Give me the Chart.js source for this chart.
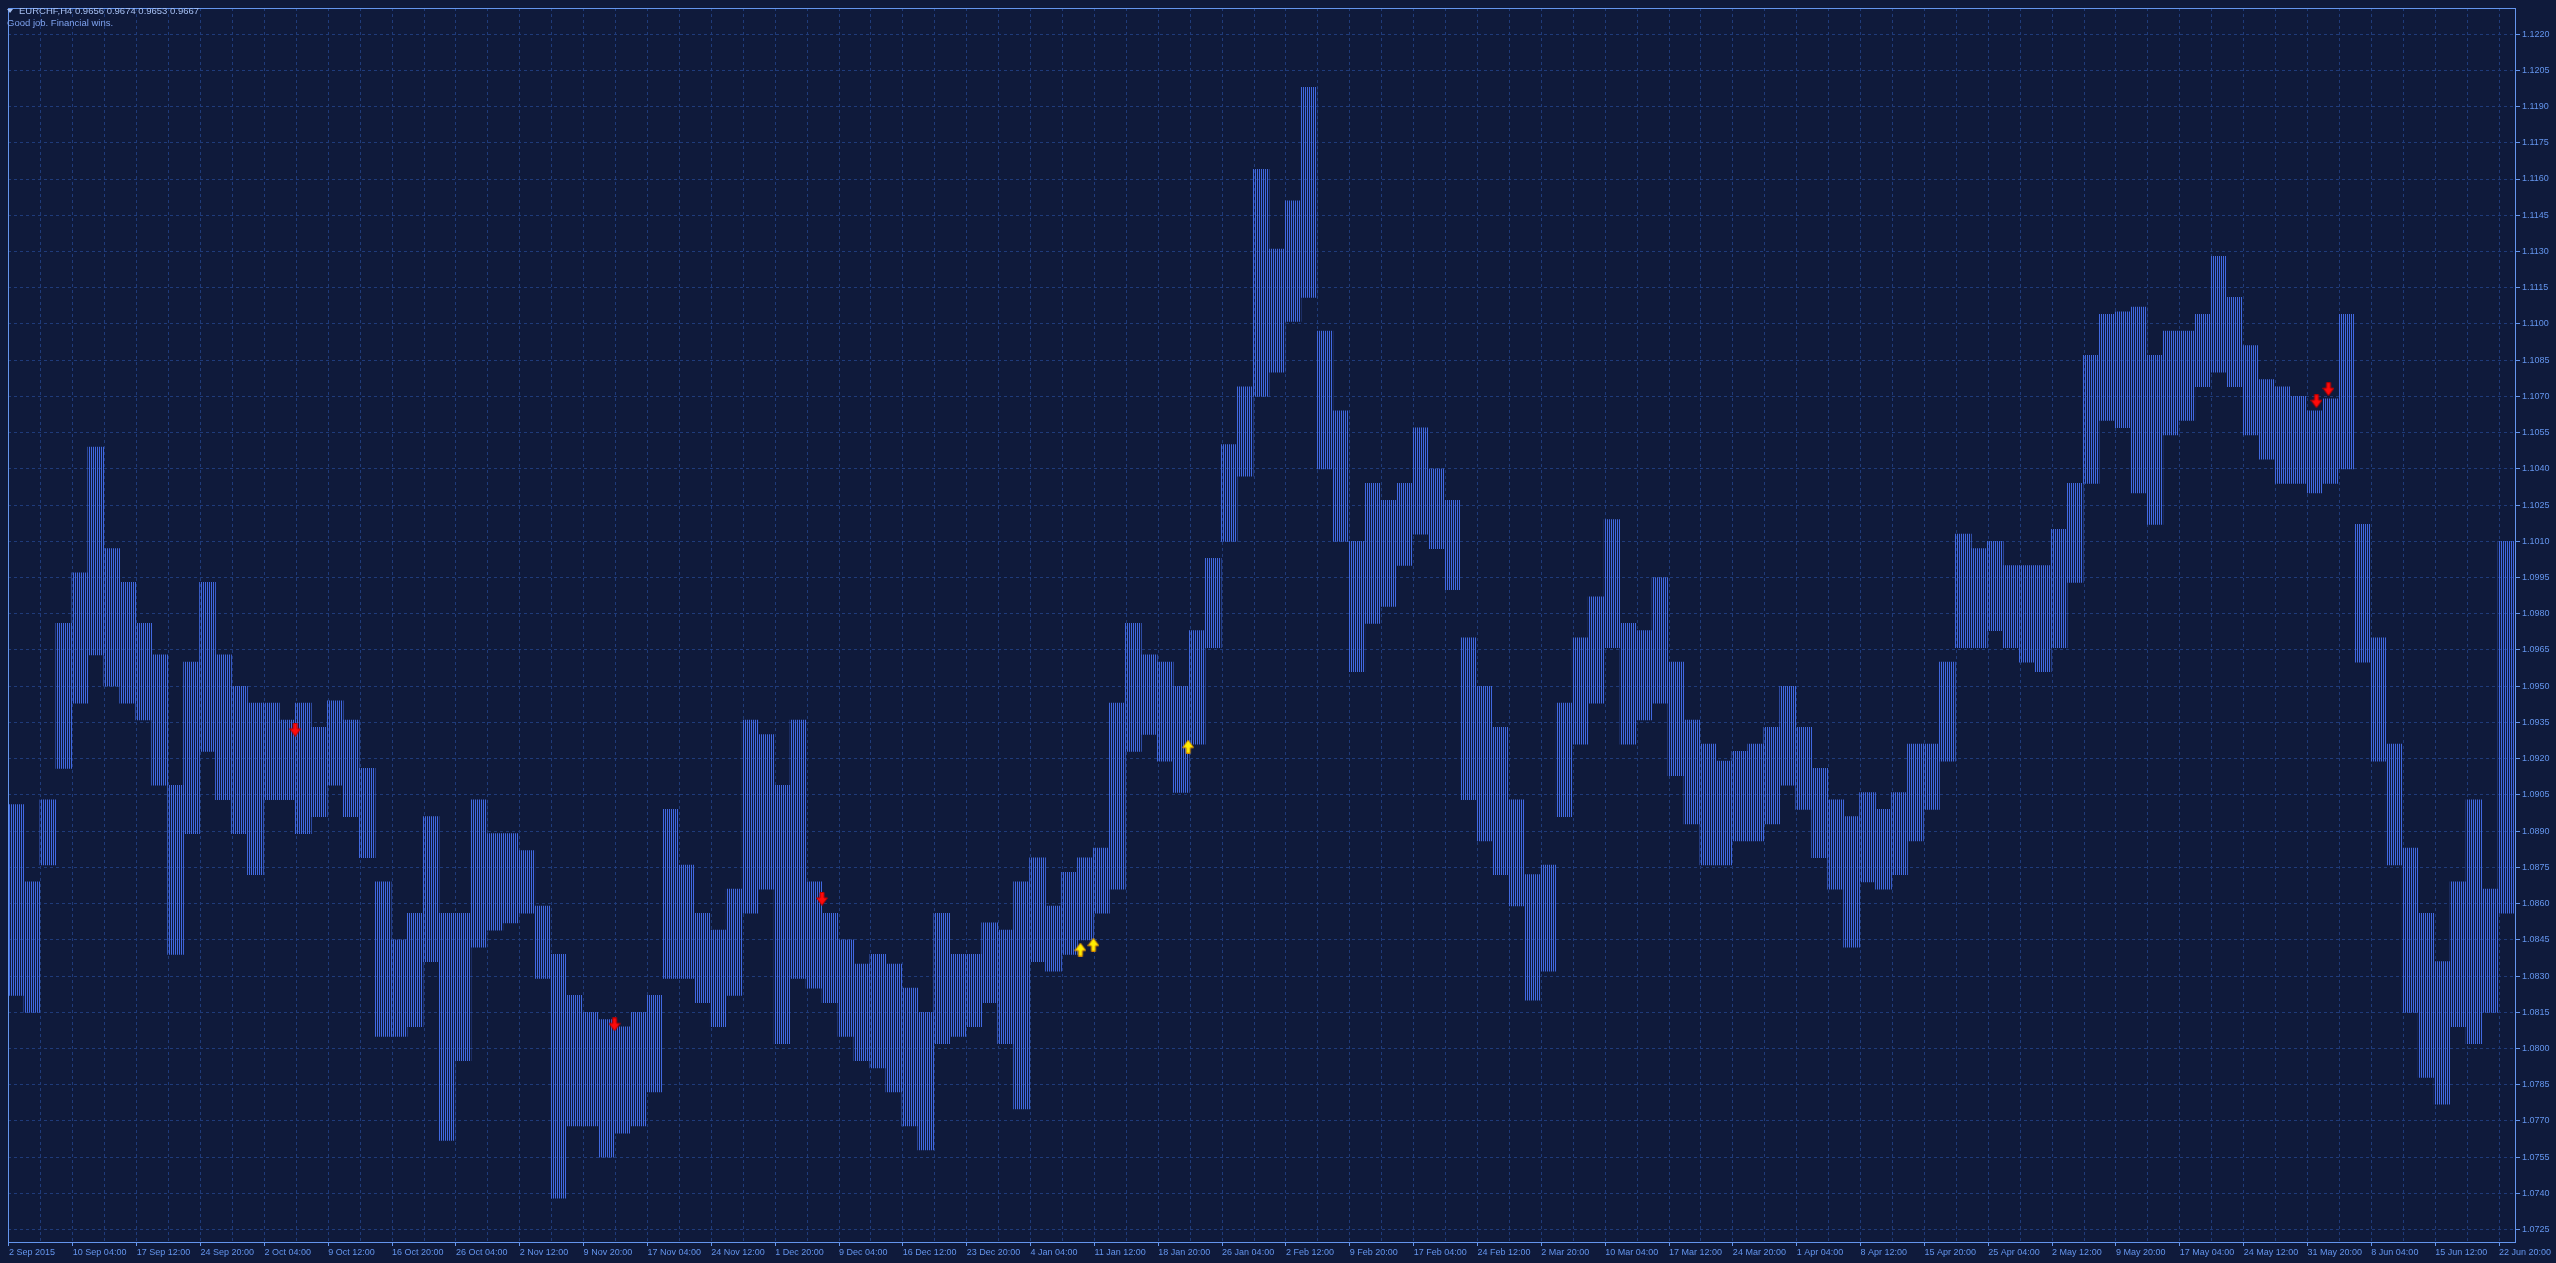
<!DOCTYPE html>
<html><head><meta charset="utf-8">
<script src="https://cdn.jsdelivr.net/npm/chart.js@4/dist/chart.umd.min.js"></script>
<style>
html,body{margin:0;padding:0;background:#0f1a3b;overflow:hidden;}
#wrap{position:relative;width:2556px;height:1263px;}
canvas{display:block;}
.t{position:absolute;font-family:"Liberation Sans",Arial,sans-serif;font-size:9.5px;white-space:pre;line-height:12px;}
.tri{display:inline-block;width:0;height:0;border-left:3px solid transparent;border-right:3px solid transparent;border-top:4px solid #a6bff2;margin-right:6px;vertical-align:1px;}
</style></head><body>
<div id="wrap"><canvas id="c" width="2556" height="1263"></canvas>
<div class="t" style="left:7px;top:5px;color:#a6bff2"><span class="tri"></span>EURCHF,H4 0.9656 0.9674 0.9653 0.9667</div>
<div class="t" style="left:7px;top:17px;color:#7ea2ee">Good job. Financial wins.</div>
</div>
<script>
// each drawn bar summarises 8 consecutive H4 bars (high / low)
const BARS_PER_GROUP = 8;
const highs = [
1.0901,1.0869,1.0903,1.0976,1.0997,1.1049,1.1007,1.0993,1.0976,1.0963,
1.0909,1.0960,1.0993,1.0963,1.0950,1.0943,1.0943,1.0936,1.0943,1.0933,
1.0944,1.0936,1.0916,1.0869,1.0845,1.0856,1.0896,1.0856,1.0856,1.0903,
1.0889,1.0889,1.0882,1.0859,1.0839,1.0822,1.0815,1.0812,1.0809,1.0815,
1.0822,1.0899,1.0876,1.0856,1.0849,1.0866,1.0936,1.0930,1.0909,1.0936,
1.0869,1.0856,1.0845,1.0835,1.0839,1.0835,1.0825,1.0815,1.0856,1.0839,
1.0839,1.0852,1.0849,1.0869,1.0879,1.0859,1.0873,1.0879,1.0883,1.0943,
1.0976,1.0963,1.0960,1.0950,1.0973,1.1003,1.1050,1.1074,1.1164,1.1131,
1.1151,1.1198,1.1097,1.1064,1.1010,1.1034,1.1027,1.1034,1.1057,1.1040,
1.1027,1.0970,1.0950,1.0933,1.0903,1.0872,1.0876,1.0943,1.0970,1.0987,
1.1019,1.0976,1.0973,1.0995,1.0960,1.0936,1.0926,1.0919,1.0923,1.0926,
1.0933,1.0950,1.0933,1.0916,1.0903,1.0896,1.0906,1.0899,1.0906,1.0926,
1.0926,1.0960,1.1013,1.1007,1.1010,1.1000,1.1000,1.1000,1.1015,1.1034,
1.1087,1.1104,1.1105,1.1107,1.1087,1.1097,1.1097,1.1104,1.1128,1.1111,
1.1091,1.1077,1.1074,1.1070,1.1064,1.1069,1.1104,1.1017,1.0970,1.0926,
1.0883,1.0856,1.0836,1.0869,1.0903,1.0866,1.1010
];
const lows = [
1.0822,1.0815,1.0876,1.0916,1.0943,1.0963,1.0950,1.0943,1.0936,1.0909,
1.0839,1.0889,1.0923,1.0903,1.0889,1.0872,1.0903,1.0903,1.0889,1.0896,
1.0909,1.0896,1.0879,1.0805,1.0805,1.0809,1.0836,1.0762,1.0795,1.0842,
1.0849,1.0852,1.0856,1.0829,1.0738,1.0768,1.0768,1.0755,1.0765,1.0768,
1.0782,1.0829,1.0829,1.0819,1.0809,1.0822,1.0856,1.0866,1.0802,1.0829,
1.0825,1.0819,1.0805,1.0795,1.0792,1.0782,1.0768,1.0758,1.0802,1.0805,
1.0809,1.0819,1.0802,1.0775,1.0836,1.0832,1.0839,1.0845,1.0856,1.0866,
1.0923,1.0930,1.0919,1.0906,1.0926,1.0966,1.1010,1.1037,1.1070,1.1080,
1.1101,1.1111,1.1040,1.1010,1.0956,1.0976,1.0983,1.1000,1.1013,1.1007,
1.0990,1.0903,1.0886,1.0872,1.0859,1.0820,1.0832,1.0896,1.0926,1.0943,
1.0966,1.0926,1.0936,1.0943,1.0913,1.0893,1.0876,1.0876,1.0886,1.0886,
1.0893,1.0909,1.0899,1.0879,1.0866,1.0842,1.0869,1.0866,1.0872,1.0886,
1.0899,1.0919,1.0966,1.0966,1.0973,1.0966,1.0960,1.0956,1.0966,1.0993,
1.1034,1.1060,1.1057,1.1030,1.1017,1.1054,1.1060,1.1074,1.1080,1.1074,
1.1054,1.1044,1.1034,1.1034,1.1030,1.1034,1.1040,1.0960,1.0919,1.0876,
1.0815,1.0788,1.0777,1.0809,1.0802,1.0815,1.0856
];
const timeLabels = ['2 Sep 2015','10 Sep 04:00','17 Sep 12:00','24 Sep 20:00','2 Oct 04:00','9 Oct 12:00','16 Oct 20:00','26 Oct 04:00','2 Nov 12:00','9 Nov 20:00','17 Nov 04:00','24 Nov 12:00','1 Dec 20:00','9 Dec 04:00','16 Dec 12:00','23 Dec 20:00','4 Jan 04:00','11 Jan 12:00','18 Jan 20:00','26 Jan 04:00','2 Feb 12:00','9 Feb 20:00','17 Feb 04:00','24 Feb 12:00','2 Mar 20:00','10 Mar 04:00','17 Mar 12:00','24 Mar 20:00','1 Apr 04:00','8 Apr 12:00','15 Apr 20:00','25 Apr 04:00','2 May 12:00','9 May 20:00','17 May 04:00','24 May 12:00','31 May 20:00','8 Jun 04:00','15 Jun 12:00','22 Jun 20:00'];
const BARS_PER_LABEL = 32;
const priceLabels = ['1.0725','1.0740','1.0755','1.0770','1.0785','1.0800','1.0815','1.0830','1.0845','1.0860','1.0875','1.0890','1.0905','1.0920','1.0935','1.0950','1.0965','1.0980','1.0995','1.1010','1.1025','1.1040','1.1055','1.1070','1.1085','1.1100','1.1115','1.1130','1.1145','1.1160','1.1175','1.1190','1.1205','1.1220'];
// signal arrows: H4 bar number and price
const sellBars = [143.5, 303.5, 407.5, 1156.5, 1162.5];
const sellPrices = [1.0932, 1.0810, 1.0862, 1.1068, 1.1073];
const buyBars = [537, 543.5, 591];
const buyPrices = [1.0841, 1.0843, 1.0925];

const TOTAL_BARS = 1256;
const Y_MIN = 1.07199, Y_MAX = 1.12308;

const canvas = document.getElementById('c');
const mainCtx = canvas.getContext('2d');
const stripe = document.createElement('canvas');
stripe.width = 2; stripe.height = 1;
const sg = stripe.getContext('2d');
sg.fillStyle = '#4169E1'; sg.fillRect(1, 0, 1, 1);
const stripePattern = mainCtx.createPattern(stripe, 'repeat');

function arrow(down, fill, edge) {
  const c = document.createElement('canvas'); c.width = 12; c.height = 14;
  const g = c.getContext('2d');
  g.beginPath();
  if (down) { g.moveTo(4,0.5); g.lineTo(8,0.5); g.lineTo(8,6); g.lineTo(11.5,6); g.lineTo(6,13.5); g.lineTo(0.5,6); g.lineTo(4,6); }
  else { g.moveTo(4,13.5); g.lineTo(8,13.5); g.lineTo(8,8); g.lineTo(11.5,8); g.lineTo(6,0.5); g.lineTo(0.5,8); g.lineTo(4,8); }
  g.closePath();
  g.fillStyle = fill; g.fill();
  g.strokeStyle = edge; g.lineWidth = 1; g.stroke();
  return c;
}
const redArrow = arrow(true, '#ff0a0a', '#b40000');
const yellowArrow = arrow(false, '#ffee00', '#d88a00');

const barData = highs.map((h, k) => ({ x: k * BARS_PER_GROUP + (BARS_PER_GROUP - 1) / 2, y: [lows[k], h] }));
const sellData = sellBars.map((b, i) => ({ x: b, y: sellPrices[i] }));
const buyData = buyBars.map((b, i) => ({ x: b, y: buyPrices[i] }));

const AXIS = '#6495ED', GRID = '#1f3b7a';
const framePlugin = {
  id: 'frame',
  afterDraw(chart) {
    const { ctx, chartArea: a } = chart;
    ctx.save(); ctx.strokeStyle = AXIS; ctx.lineWidth = 1;
    ctx.strokeRect(a.left + 0.5, a.top + 0.5, a.right - a.left, a.bottom - a.top);
    ctx.restore();
  }
};

new Chart(canvas, {
  type: 'bar',
  data: {
    datasets: [
      { type: 'bar', data: barData, backgroundColor: stripePattern, borderWidth: 0, barThickness: BARS_PER_GROUP * 2, order: 2 },
      { type: 'scatter', data: sellData, pointStyle: redArrow, pointRadius: 7, order: 1 },
      { type: 'scatter', data: buyData, pointStyle: yellowArrow, pointRadius: 7, order: 1 }
    ]
  },
  options: {
    responsive: false, animation: false, devicePixelRatio: 1,
    layout: { padding: { left: 2, top: 2, right: 0, bottom: 0 } },
    plugins: { legend: { display: false }, tooltip: { enabled: false } },
    scales: {
      x: {
        type: 'linear', min: -0.5, max: TOTAL_BARS, offset: false,
        afterBuildTicks(s) { const t = []; for (let v = 0; v <= (timeLabels.length - 1) * BARS_PER_LABEL; v += BARS_PER_LABEL / 2) t.push({ value: v }); s.ticks = t; },
        afterFit(s) { s.height = 21; s.paddingLeft = 0; s.paddingRight = 0; },
        grid: { offset: false, color: GRID, lineWidth: 1, tickLength: 4, tickColor: (c) => (c.tick && c.tick.value % BARS_PER_LABEL === 0) ? AXIS : 'rgba(0,0,0,0)', tickBorderDash: [] },
        border: { display: false, dash: [3, 3] },
        ticks: { autoSkip: false, maxRotation: 0, minRotation: 0, align: 'start', padding: 1, color: AXIS, font: { family: 'Liberation Sans', size: 9 },
          callback: (v) => v % BARS_PER_LABEL === 0 ? timeLabels[v / BARS_PER_LABEL] : '' }
      },
      y: {
        position: 'right', min: Y_MIN, max: Y_MAX,
        afterBuildTicks(s) { s.ticks = priceLabels.map(t => ({ value: parseFloat(t) })); },
        afterFit(s) { s.width = 41; s.paddingTop = 0; s.paddingBottom = 0; },
        grid: { color: GRID, lineWidth: 1, tickLength: 5, tickColor: AXIS, tickBorderDash: [] },
        border: { display: false, dash: [3, 3] },
        ticks: { color: AXIS, padding: 2, font: { family: 'Liberation Sans', size: 9 }, callback: (v, i) => priceLabels[i] }
      }
    }
  },
  plugins: [framePlugin]
});
</script>
</body></html>
